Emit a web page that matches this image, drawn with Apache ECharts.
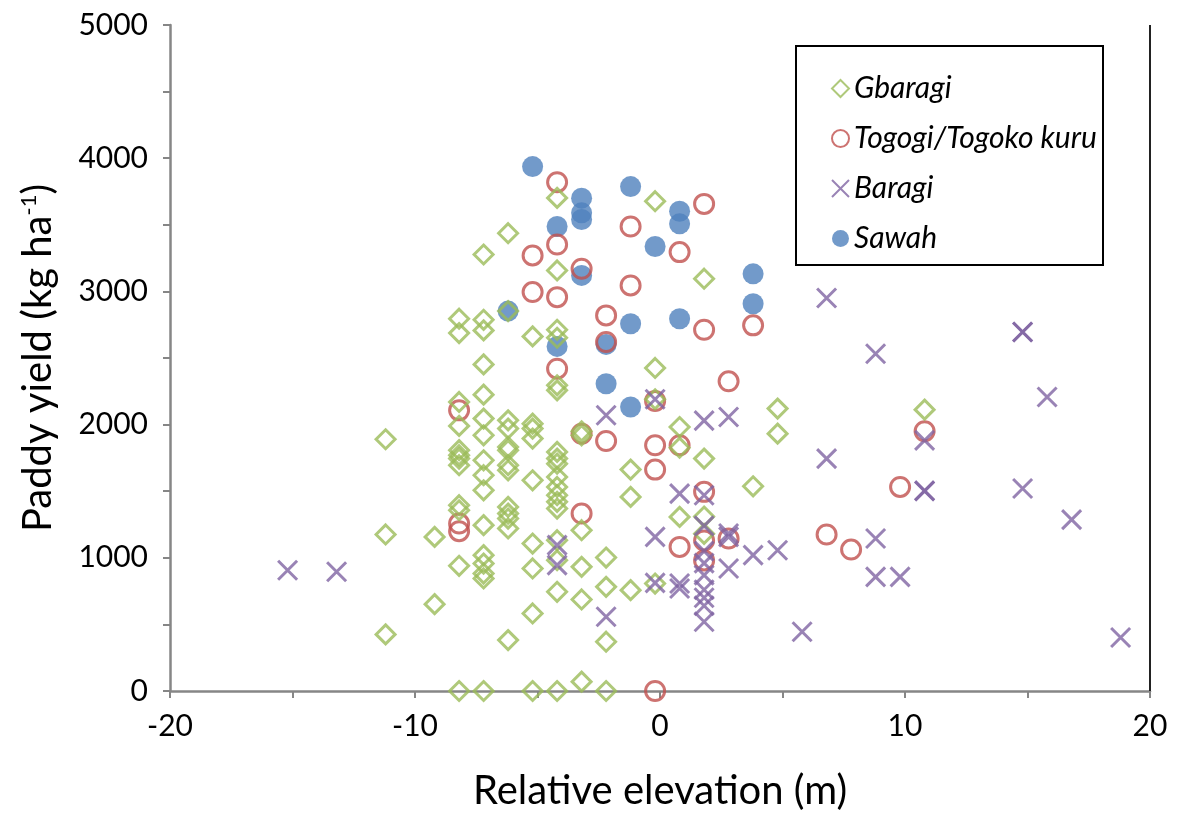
<!DOCTYPE html>
<html>
<head>
<meta charset="utf-8">
<script src="https://cdn.jsdelivr.net/npm/echarts@6/dist/echarts.min.js"></script>
<style>
html,body{margin:0;padding:0;background:#fff;}
#chart{width:1177px;height:816px;}
</style>
</head>
<body>
<div id="chart"></div>
<script>
// yield points: [relative elevation (m), paddy yield (kg/ha)]
var gbaragi = [
  [-11.2,1890],[-11.2,1175],[-11.2,425],
  [-9.2,1157],[-9.2,652],
  [-8.2,2795],[-8.2,2687],[-8.2,2170],[-8.2,1990],[-8.2,1808],[-8.2,1770],[-8.2,1745],[-8.2,1695],[-8.2,1395],[-8.2,1357],[-8.2,940],[-8.2,0],
  [-7.2,3277],[-7.2,2787],[-7.2,2707],[-7.2,2452],[-7.2,2225],[-7.2,2045],[-7.2,1920],[-7.2,1732],[-7.2,1620],[-7.2,1507],[-7.2,1245],[-7.2,1020],[-7.2,957],[-7.2,882],[-7.2,845],[-7.2,0],
  [-6.2,3437],[-6.2,2852],[-6.2,2032],[-6.2,1970],[-6.2,1832],[-6.2,1807],[-6.2,1695],[-6.2,1657],[-6.2,1382],[-6.2,1332],[-6.2,1295],[-6.2,1220],[-6.2,382],
  [-5.2,2662],[-5.2,2007],[-5.2,1970],[-5.2,1895],[-5.2,1582],[-5.2,1107],[-5.2,920],[-5.2,582],[-5.2,0],
  [-4.2,3702],[-4.2,3157],[-4.2,2712],[-4.2,2652],[-4.2,2295],[-4.2,2257],[-4.2,1795],[-4.2,1745],[-4.2,1707],[-4.2,1607],[-4.2,1532],[-4.2,1470],[-4.2,1420],[-4.2,1370],[-4.2,1132],[-4.2,982],[-4.2,745],[-4.2,0],
  [-3.2,1950],[-3.2,1920],[-3.2,1207],[-3.2,932],[-3.2,687],[-3.2,70],
  [-2.2,1002],[-2.2,782],[-2.2,370],[-2.2,0],
  [-1.2,1662],[-1.2,1457],[-1.2,757],
  [-0.2,3677],[-0.2,2425],[-0.2,2190],[-0.2,807],
  [0.8,1982],[0.8,1827],[0.8,1307],
  [1.8,3095],[1.8,1745],[1.8,1310],[1.8,1180],
  [3.8,1537],
  [4.8,2120],[4.8,1932],
  [10.8,2112]
];
var togogi = [
  [-8.2,2107],[-8.2,1257],[-8.2,1200],
  [-5.2,3270],[-5.2,2995],
  [-4.2,3820],[-4.2,3352],[-4.2,2957],[-4.2,2420],
  [-3.2,3170],[-3.2,1932],[-3.2,1332],
  [-2.2,2820],[-2.2,2620],[-2.2,1877],
  [-1.2,3487],[-1.2,3045],
  [-0.2,2177],[-0.2,1845],[-0.2,1662],[-0.2,0],
  [0.8,3295],[0.8,1845],[0.8,1082],
  [1.8,3657],[1.8,2712],[1.8,1495],[1.8,1130],[1.8,980],
  [2.8,2325],[2.8,1145],
  [3.8,2745],
  [6.8,1175],[7.8,1062],[9.8,1532],[10.8,1950]
];
var baragi = [
  [-15.2,907],[-13.2,895],
  [-4.2,1095],[-4.2,945],
  [-2.2,2070],[-2.2,557],
  [-0.2,2190],[-0.2,1157],[-0.2,812],
  [0.8,1482],[0.8,807],[0.8,770],
  [1.8,2030],[1.8,1470],[1.8,1240],[1.8,1050],[1.8,960],[1.8,870],[1.8,760],[1.8,700],[1.8,640],[1.8,520],
  [2.8,2057],[2.8,1182],[2.8,1157],[2.8,920],
  [3.8,1020],[4.8,1057],[5.8,445],
  [6.8,2950],[6.8,1745],
  [8.8,2532],[8.8,1145],[8.8,857],
  [9.8,857],
  [10.8,1882],[10.8,1502],[10.8,1502],
  [14.8,2695],[14.8,2695],[14.8,1520],
  [15.8,2207],[16.8,1287],[18.8,402]
];
var sawah = [
  [-6.2,2852],[-5.2,3937],
  [-4.2,3487],[-4.2,2587],
  [-3.2,3700],[-3.2,3590],[-3.2,3540],[-3.2,3120],
  [-2.2,2602],[-2.2,2307],
  [-1.2,3787],[-1.2,2757],[-1.2,2132],
  [-0.2,3337],
  [0.8,3602],[0.8,3507],[0.8,2795],
  [3.8,3132],[3.8,2907]
];

var FONT = 'Lato';
var crossPath = 'path://M0,0L10,10M10,0L0,10';

var chart = echarts.init(document.getElementById('chart'));
var option = {
  backgroundColor: '#fff',
  animation: false,
  textStyle: { fontFamily: FONT },
  grid: { left: 170, right: 27, top: 25, bottom: 125 },
  xAxis: {
    type: 'value', min: -20, max: 20, interval: 5,
    name: 'Relative elevation (m)', nameLocation: 'middle', nameGap: 80,
    nameTextStyle: { fontSize: 40, color: '#000', fontFamily: FONT },
    axisLine: { onZero: false, lineStyle: { color: '#868686', width: 2.5 } },
    axisTick: { inside: false, length: 7, lineStyle: { color: '#868686', width: 2 } },
    axisLabel: { fontSize: 30, color: '#000', margin: 20, fontFamily: FONT,
      formatter: function (v) { return v % 10 === 0 ? String(v) : ''; } },
    splitLine: { show: false }
  },
  yAxis: {
    type: 'value', min: 0, max: 5000, interval: 500,
    name: 'Paddy yield (kg ha{sup|-1})', nameLocation: 'middle', nameGap: 112, nameRotate: 90,
    nameTextStyle: { fontSize: 40, color: '#000', fontFamily: FONT,
      rich: { sup: { fontSize: 22, color: '#000', fontFamily: FONT, verticalAlign: 'top', padding: [0, 0, 18, 0] } } },
    axisLine: { show: true, onZero: false, lineStyle: { color: '#868686', width: 2.5 } },
    axisTick: { show: true, inside: false, length: 7, lineStyle: { color: '#868686', width: 2 } },
    axisLabel: { fontSize: 30, color: '#000', margin: 22, fontFamily: FONT,
      formatter: function (v) { return v % 1000 === 0 ? String(v) : ''; } },
    splitLine: { show: false }
  },
  legend: {
    orient: 'vertical', left: 826, top: 68,
    itemWidth: 17, itemHeight: 17, itemGap: 19,
    textStyle: { fontSize: 30, fontStyle: 'italic', color: '#000', fontFamily: FONT, lineHeight: 31 },
    data: ['Gbaragi', 'Togogi/Togoko kuru', 'Baragi', 'Sawah']
  },
  graphic: [
    { type: 'rect', z: 100, shape: { x: 796, y: 46, width: 307, height: 219 },
      style: { fill: 'none', stroke: '#000', lineWidth: 2 } },
    { type: 'line', z: 100, shape: { x1: 1150, y1: 25, x2: 1150, y2: 691 },
      style: { stroke: '#222', lineWidth: 2 } }
  ],
  series: [
    { name: 'Gbaragi', type: 'scatter', z: 3, data: gbaragi, symbol: 'diamond', symbolSize: 19,
      itemStyle: { color: 'rgba(0,0,0,0)', borderColor: '#9BBB59', borderWidth: 3 } },
    { name: 'Togogi/Togoko kuru', type: 'scatter', z: 2, data: togogi, symbol: 'circle', symbolSize: 19,
      itemStyle: { color: 'rgba(0,0,0,0)', borderColor: '#C0504D', borderWidth: 3 } },
    { name: 'Baragi', type: 'scatter', z: 4, data: baragi, symbol: crossPath, symbolSize: 19,
      itemStyle: { color: 'rgba(0,0,0,0)', borderColor: '#8064A2', borderWidth: 3 } },
    { name: 'Sawah', type: 'scatter', z: 1, data: sawah, symbol: 'circle', symbolSize: 21,
      itemStyle: { color: '#4F81BD' } }
  ]
};
chart.setOption(option);
</script>
</body>
</html>
